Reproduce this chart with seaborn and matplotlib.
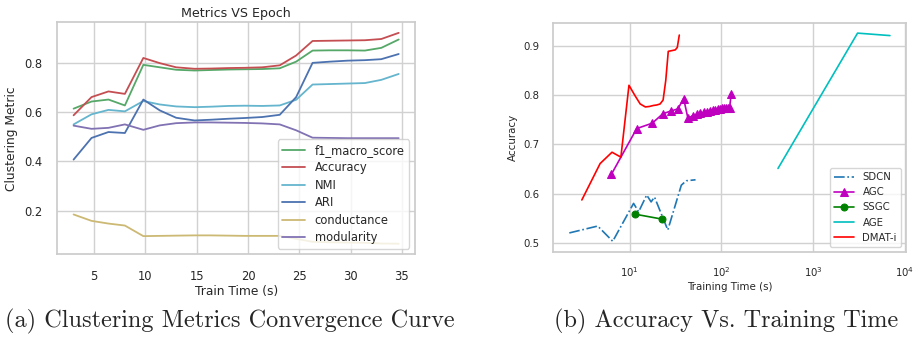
import numpy as np
import pandas as pd
import matplotlib
matplotlib.use("Agg")
import matplotlib.pyplot as plt
import seaborn as sns


# -------------------------------
# Data (a): metrics vs train time
# -------------------------------
train_time = [3.0, 4.75, 6.4, 8.0, 9.8, 11.4, 13.0, 14.8, 16.4, 18.1,
              19.7, 21.4, 23.1, 24.7, 26.3, 28.0, 29.7, 31.4, 33.0, 34.7]
f1_macro = [0.614, 0.643, 0.651, 0.627, 0.792, 0.782, 0.772, 0.769, 0.771, 0.773,
            0.774, 0.775, 0.778, 0.805, 0.850, 0.851, 0.851, 0.850, 0.861, 0.895]
accuracy = [0.587, 0.661, 0.684, 0.674, 0.820, 0.799, 0.782, 0.776, 0.777, 0.779,
            0.780, 0.782, 0.790, 0.830, 0.889, 0.890, 0.891, 0.892, 0.897, 0.922]
nmi = [0.550, 0.591, 0.609, 0.603, 0.645, 0.631, 0.623, 0.620, 0.622, 0.625,
       0.626, 0.625, 0.627, 0.650, 0.712, 0.714, 0.716, 0.718, 0.731, 0.755]
ari = [0.407, 0.495, 0.519, 0.515, 0.651, 0.607, 0.577, 0.566, 0.569, 0.573,
       0.576, 0.580, 0.589, 0.661, 0.800, 0.805, 0.809, 0.811, 0.815, 0.836]
conductance = [0.184, 0.158, 0.147, 0.139, 0.096, 0.097, 0.098, 0.099, 0.099, 0.098,
               0.097, 0.097, 0.097, 0.085, 0.073, 0.071, 0.070, 0.069, 0.066, 0.065]
modularity = [0.545, 0.532, 0.536, 0.550, 0.528, 0.546, 0.555, 0.558, 0.558, 0.557,
              0.556, 0.554, 0.550, 0.526, 0.496, 0.495, 0.494, 0.494, 0.494, 0.494]

metric_names = ["f1_macro_score", "Accuracy", "NMI", "ARI", "conductance", "modularity"]
metric_colors = ["#55A868", "#C44E52", "#64B5CD", "#4C72B0", "#CCB974", "#8172B3"]

# -------------------------------
# Data (b): accuracy vs training time
# -------------------------------
sdcn_time = [2.19, 4.47, 6.52, 11.0, 12.5, 15.3, 17.1, 18.6, 26.0, 36.5, 41.3, 52.2]
sdcn_acc = [0.520, 0.534, 0.503, 0.580, 0.563, 0.597, 0.583, 0.593, 0.526, 0.617, 0.626, 0.628]

agc_time = [6.3, 11.9, 17.6, 22.9, 28.3, 33.5, 38.7, 43.1, 48.4, 53.7, 59.0, 64.3,
            69.6, 75.0, 80.2, 85.5, 90.8, 96.1, 101.4, 106.7, 112.0, 117.3, 122.6, 127.9]
agc_acc = [0.639, 0.732, 0.743, 0.762, 0.768, 0.772, 0.793, 0.753, 0.758, 0.761, 0.763, 0.765,
           0.766, 0.768, 0.769, 0.770, 0.771, 0.772, 0.773, 0.773, 0.774, 0.774, 0.774, 0.802]

ssgc_time = [11.5, 22.6]
ssgc_acc = [0.558, 0.548]

age_time = [414, 3055, 6890]
age_acc = [0.651, 0.926, 0.921]

dmat_time = train_time
dmat_acc = accuracy


sns.set_theme(style="whitegrid")
plt.rcParams["font.family"] = ["DejaVu Sans"]
plt.rcParams["axes.edgecolor"] = "0.8"
plt.rcParams["grid.color"] = "0.82"

fig = plt.figure(figsize=(9.13, 3.37), dpi=100)

# -------------------------------
# (a) Clustering metrics
# -------------------------------
df = pd.DataFrame({
    "time": train_time * 6,
    "value": f1_macro + accuracy + nmi + ari + conductance + modularity,
    "metric": sum([[m] * len(train_time) for m in metric_names], []),
})

ax1 = fig.add_axes([0.0628, 0.2454, 0.3917, 0.6884])
sns.lineplot(data=df, x="time", y="value", hue="metric", hue_order=metric_names,
             palette=dict(zip(metric_names, metric_colors)), linewidth=1.3, ax=ax1)
ax1.set_title("Metrics VS Epoch", fontsize=9.1, pad=4)
ax1.set_xlabel("Train Time (s)", fontsize=8.8, labelpad=2)
ax1.set_ylabel("Clustering Metric", fontsize=8.8)
ax1.set_xticks([5, 10, 15, 20, 25, 30, 35])
ax1.set_yticks([0.2, 0.4, 0.6, 0.8])
ax1.tick_params(labelsize=8.3, pad=5)
leg1 = ax1.legend(loc="lower right", fontsize=8.3, title=None, labelspacing=0.38)
for line in leg1.get_lines():
    line.set_linewidth(1.3)

# -------------------------------
# (b) Accuracy vs training time
# -------------------------------
ax2 = fig.add_axes([0.606, 0.2531, 0.3863, 0.6795])
ax2.set_xscale("log")
sns.lineplot(x=sdcn_time, y=sdcn_acc, color="#1f77b4", linestyle="-.", linewidth=1.2,
             label="SDCN", ax=ax2)
sns.lineplot(x=agc_time, y=agc_acc, color="#BF00BF", marker="^", markersize=5.5,
             markeredgecolor="#BF00BF", linewidth=1.2, label="AGC", ax=ax2)
sns.lineplot(x=ssgc_time, y=ssgc_acc, color="#008000", marker="o", markersize=5,
             markeredgecolor="#008000", linewidth=1.2, label="SSGC", ax=ax2)
sns.lineplot(x=age_time, y=age_acc, color="#00BFBF", linewidth=1.2, label="AGE", ax=ax2)
sns.lineplot(x=dmat_time, y=dmat_acc, color="#FF0000", linewidth=1.2, label="DMAT-i", ax=ax2)
ax2.set_xlabel("Training Time (s)", fontsize=7.4, labelpad=2)
ax2.set_ylabel("Accuracy", fontsize=7.4)
ax2.set_yticks([0.5, 0.6, 0.7, 0.8, 0.9])
ax2.set_xticks([10, 100, 1000, 10000])
ax2.minorticks_off()
ax2.tick_params(labelsize=7.3, pad=4)
ax2.legend(loc="lower right", fontsize=7.3)

# subfigure captions
fig.text(0.252, 0.047, "(a) Clustering Metrics Convergence Curve",
         family="cmr10", fontsize=17.5, ha="center", va="center")
fig.text(0.795, 0.047, "(b) Accuracy Vs. Training Time",
         family="cmr10", fontsize=17.5, ha="center", va="center")

fig.savefig("out.png", dpi=100)
